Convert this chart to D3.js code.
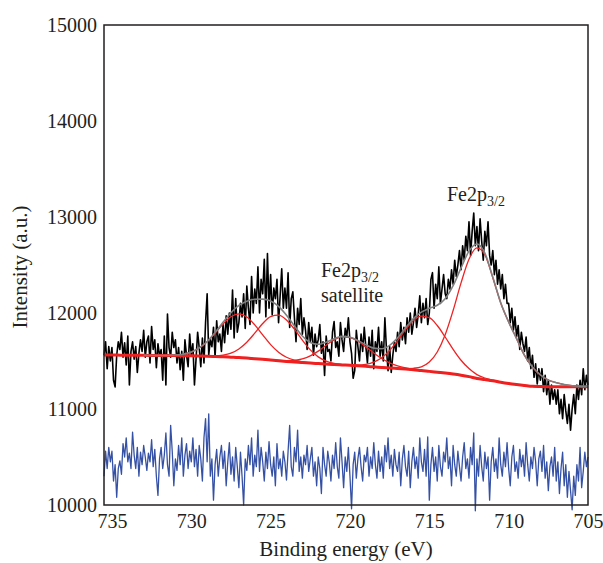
<!DOCTYPE html>
<html>
<head>
<meta charset="utf-8">
<script src="https://cdn.jsdelivr.net/npm/d3@7"></script>
<style>
  body { margin: 0; background: #fff; }
  text { font-family: "Liberation Serif", "Times New Roman", serif; }
</style>
</head>
<body>
<div id="chart"></div>
<script>
// axis ticks
var xTicks = [735, 730, 725, 720, 715, 710, 705];
var yTicks = [10000, 11000, 12000, 13000, 14000, 15000];

// fit grid (eV), 0.5 eV steps
var energyGrid = [735.5, 735, 734.5, 734, 733.5, 733, 732.5, 732, 731.5, 731,
  730.5, 730, 729.5, 729, 728.5, 728, 727.5, 727, 726.5, 726,
  725.5, 725, 724.5, 724, 723.5, 723, 722.5, 722, 721.5, 721,
  720.5, 720, 719.5, 719, 718.5, 718, 717.5, 717, 716.5, 716,
  715.5, 715, 714.5, 714, 713.5, 713, 712.5, 712, 711.5, 711,
  710.5, 710, 709.5, 709, 708.5, 708, 707.5, 707, 706.5, 706,
  705.5, 705];

// Shirley background (counts)
var background = [11562, 11562, 11561, 11560, 11559, 11559, 11558, 11557, 11556, 11556,
  11555, 11554, 11552, 11550, 11547, 11544, 11540, 11536, 11530, 11523,
  11517, 11510, 11503, 11496, 11490, 11484, 11478, 11473, 11468, 11463,
  11459, 11455, 11450, 11444, 11439, 11433, 11428, 11422, 11416, 11410,
  11400, 11392, 11383, 11374, 11364, 11352, 11337, 11318, 11306, 11294,
  11279, 11266, 11255, 11245, 11236, 11234, 11233, 11233, 11233, 11233,
  11233, 11233];

// fitted components, counts above background
var peak727 = [0, 0, 0, 0, 0, 0, 0, 1, 2, 6,
  16, 39, 83, 151, 243, 342, 421, 454, 428, 353,
  255, 161, 89, 43, 18, 7, 2, 1, 0, 0,
  0, 0, 0, 0, 0, 0, 0, 0, 0, 0,
  0, 0, 0, 0, 0, 0, 0, 0, 0, 0,
  0, 0, 0, 0, 0, 0, 0, 0, 0, 0,
  0, 0];
var peak724 = [0, 0, 0, 0, 0, 0, 0, 0, 0, 0,
  0, 0, 1, 2, 6, 17, 41, 89, 165, 267,
  373, 453, 475, 432, 341, 233, 138, 70, 31, 12,
  4, 1, 0, 0, 0, 0, 0, 0, 0, 0,
  0, 0, 0, 0, 0, 0, 0, 0, 0, 0,
  0, 0, 0, 0, 0, 0, 0, 0, 0, 0,
  0, 0];
var peakSat = [0, 0, 0, 0, 0, 0, 0, 0, 0, 0,
  0, 0, 0, 0, 0, 0, 0, 0, 0, 0,
  0, 1, 2, 6, 16, 37, 75, 130, 197, 257,
  292, 289, 256, 203, 145, 93, 53, 28, 13, 5,
  2, 1, 0, 0, 0, 0, 0, 0, 0, 0,
  0, 0, 0, 0, 0, 0, 0, 0, 0, 0,
  0, 0];
var peak715 = [0, 0, 0, 0, 0, 0, 0, 0, 0, 0,
  0, 0, 0, 0, 0, 0, 0, 0, 0, 0,
  0, 0, 0, 0, 0, 0, 0, 0, 0, 0,
  1, 3, 8, 22, 50, 101, 182, 290, 410, 513,
  568, 559, 487, 376, 258, 156, 84, 40, 17, 6,
  2, 1, 0, 0, 0, 0, 0, 0, 0, 0,
  0, 0];
var peak712 = [0, 0, 0, 0, 0, 0, 0, 0, 0, 0,
  0, 0, 0, 0, 0, 0, 0, 0, 0, 0,
  0, 0, 0, 0, 0, 0, 0, 0, 0, 0,
  0, 0, 0, 0, 0, 0, 0, 1, 4, 14,
  39, 97, 211, 399, 662, 962, 1223, 1360, 1301, 1074,
  826, 640, 478, 313, 201, 121, 68, 41, 21, 10,
  4, 1];
var components = [peak727, peak724, peakSat, peak715, peak712];

// envelope drawn from this energy down
var envelopeStart = 733;

// measured spectrum, 735.5 -> 705.0 eV in 0.1 eV steps
var rawStart = 735.5;
var rawStep = 0.1;
var rawCounts = [11560, 11700, 11420, 11650, 11500,
  11640, 11300, 11230, 11560, 11700, 11620, 11800, 11540, 11690, 11460,
  11760, 11250, 11600, 11700, 11520, 11650, 11380, 11580, 11720, 11600,
  11820, 11540, 11700, 11760, 11480, 11860, 11620, 11720, 11430, 11680,
  11550, 11620, 11300, 11760, 11250, 11990, 11640, 11540, 11800, 11640,
  11720, 11480, 11640, 11410, 11600, 11300, 11720, 11560, 11440, 11780,
  11560, 11680, 11250, 11520, 11800, 11640, 11440, 11740, 11480, 11900,
  12200, 11560, 11720, 11650, 11850, 11540, 11920, 11700, 11780, 11600,
  11880, 11690, 11970, 11780, 12000, 11830, 12240, 11740, 12150, 11800,
  11900, 12100, 11960, 12200, 11840, 12280, 12050, 11880, 12380, 12000,
  12250, 12100, 12480, 12000, 12350, 12200, 12560, 11960, 12620, 12050,
  12400, 11980, 12260, 12150, 12350, 11900, 12180, 12460, 12050, 12260,
  12050, 12420, 11850, 12150, 12220, 11950, 11700, 12050, 11880, 12150,
  11780, 11950, 11820, 11620, 11900, 11700, 11850, 11560, 11780, 11650,
  11720, 11880, 11580, 11700, 11350, 11760, 11600, 11620, 11500, 11800,
  11910, 11640, 11700, 11550, 11900, 11720, 11600, 11840, 11750, 11950,
  11700, 11580, 11320, 11400, 11820, 11650, 11500, 11780, 11600, 11850,
  11650, 11480, 11750, 11550, 11820, 11420, 11700, 11600, 11850, 11550,
  11700, 11500, 11950, 11620, 11400, 11650, 11380, 11560, 11700, 11600,
  11800, 11650, 11900, 11720, 11850, 11680, 11950, 11800, 12000, 11780,
  11900, 12050, 11850, 11980, 12180, 11900, 12100, 11950, 12150, 11880,
  12000, 12350, 12420, 12050, 12300, 12150, 12480, 12100, 12250, 12400,
  12200, 12150, 12350, 12250, 12450, 12300, 12550, 12380, 12500, 12650,
  12450, 12700, 12550, 12800, 12650, 12950, 12600, 12850, 13040, 12700,
  12900, 12650, 12980, 12750, 12550, 12850, 12700, 12950, 12600, 12500,
  12650, 12400, 12550, 12300, 12450, 12250, 12400, 12150, 12300, 12100,
  12100, 11900, 12050, 11820, 11960, 11750, 11870, 11620, 11800, 11680,
  11600, 11750, 11500, 11640, 11420, 11560, 11330, 11470, 11260, 11420,
  11300, 11420, 11180, 11350, 11150, 11300, 11050, 11250, 11100, 11200,
  11050, 11200, 10950, 11100, 10900, 11150, 10980, 10850, 11050, 10780,
  11000, 11150, 10950, 11250, 11100, 11300, 11150, 11420, 11200, 11350,
  11250];

// residual (offset), same energy steps
var residual = [10300, 10560, 10380, 10600, 10450,
  10560, 10250, 10420, 10080, 10380, 10460, 10320, 10640, 10500, 10700,
  10450, 10540, 10380, 10760, 10520, 10380, 10600, 10300, 10550, 10420,
  10620, 10500, 10360, 10540, 10450, 10680, 10400, 10580, 10300, 10100,
  10480, 10600, 10380, 10520, 10750, 10420, 10300, 10830, 10560, 10200,
  10480, 10360, 10620, 10420, 10700, 10300, 10520, 10640, 10380, 10560,
  10450, 10700, 10400, 10580, 10300, 10620, 10480, 10250, 10700, 10900,
  10450, 10950, 10300, 10480, 10050, 10420, 10580, 10300, 10500, 10620,
  10380, 10560, 10200, 10450, 10650, 10320, 10500, 10250, 10600, 10400,
  10180, 10550, 10300, 10000, 10480, 10360, 10620, 10420, 10700, 10300,
  10520, 10400, 10780, 10350, 10600, 10450, 10250, 10550, 10380, 10660,
  10420, 10300, 10500, 10200, 10640, 10380, 10480, 10300, 10560, 10450,
  10260, 10560, 10830, 10400, 10300, 10600, 10450, 10780, 10350, 10500,
  10280, 10520, 10420, 10620, 10350, 10480, 10600, 10300, 10450, 10200,
  10500, 10380, 10120, 10600, 10420, 10300, 10560, 10440, 10250, 10520,
  10380, 10650, 10400, 10280, 10700, 10450, 10180, 10500, 10350, 10600,
  10300, 9960, 10420, 10550, 10280, 10480, 10600, 10400, 10250, 10520,
  10450, 10600, 10300, 10500, 10380, 10650, 10420, 10280, 10560, 10350,
  10500, 10280, 10620, 10450, 10700, 10380, 10520, 10300, 10580, 10420,
  10350, 10550, 10200, 10480, 10620, 10400, 10300, 10560, 10180, 10450,
  10600, 10380, 10500, 10280, 10700, 10450, 10350, 10580, 10300, 10710,
  10050, 10420, 10600, 10350, 10500, 10250, 10620, 10400, 10300, 10550,
  10450, 10700, 10380, 10500, 10200, 10620, 10420, 10300, 10560, 10400,
  10250, 10500, 10650, 10380, 10480, 10280, 10600, 10420, 10750, 9940,
  10480, 10300, 10620, 10400, 10250, 10550, 10380, 10500, 10050, 10450,
  10600, 10350, 10480, 10280, 10700, 10420, 10300, 10550, 10400, 10650,
  10380, 10200, 10500, 10620, 10350, 10450, 10280, 10580, 10400, 10520,
  10300, 10650, 10420, 10250, 10500, 10380, 10600, 10450, 10200, 10480,
  10560, 10350, 10620, 10280, 10450, 10150, 10400, 10500, 10300, 10600,
  10250, 10450, 10120, 10380, 10550, 10200, 10420, 10080, 10350, 10150,
  9950, 10300, 10100, 10420, 10250, 10600, 10180, 10350, 10550, 10400,
  10500];

var width = 603;
var height = 563;

// plot box
var plotLeft = 104;
var plotRight = 588;
var plotTop = 25;
var plotBottom = 505;

var textColor = "#231f20";
var fontFamily = '"Liberation Serif", "Times New Roman", serif';

var svg = d3
  .select("#chart")
  .append("svg")
  .attr("width", width)
  .attr("height", height);

var xScale = d3.scaleLinear().domain([735.5, 705]).range([plotLeft, plotRight]);
var yScale = d3.scaleLinear().domain([10000, 15000]).range([plotBottom, plotTop]);

// raw spectrum + residual
var rawLine = d3
  .line()
  .x(function(d, i) { return xScale(rawStart - i * rawStep); })
  .y(function(d) { return yScale(d); });

svg.append("path")
  .attr("d", rawLine(residual))
  .attr("fill", "none")
  .attr("stroke", "#3551a5")
  .attr("stroke-width", 1.3)
  .attr("stroke-linejoin", "round");

svg.append("path")
  .attr("d", rawLine(rawCounts))
  .attr("fill", "none")
  .attr("stroke", "#000")
  .attr("stroke-width", 1.6)
  .attr("stroke-linejoin", "round");

// fit curves
var gridLine = d3
  .line()
  .x(function(d, i) { return xScale(energyGrid[i]); })
  .y(function(d) { return yScale(d); })
  .curve(d3.curveMonotoneX);

components.forEach(function(comp) {
  var vals = comp.map(function(v, i) { return background[i] + v; });
  svg.append("path")
    .attr("d", gridLine(vals))
    .attr("fill", "none")
    .attr("stroke", "#ee2222")
    .attr("stroke-width", 1.3);
});

svg.append("path")
  .attr("d", gridLine(background))
  .attr("fill", "none")
  .attr("stroke", "#ef2020")
  .attr("stroke-width", 3);

// envelope = background + all components
var envelope = background.map(function(b, i) {
  return b + d3.sum(components, function(c) { return c[i]; });
});
var envLine = d3
  .line()
  .defined(function(d, i) { return energyGrid[i] <= envelopeStart; })
  .x(function(d, i) { return xScale(energyGrid[i]); })
  .y(function(d) { return yScale(d); })
  .curve(d3.curveMonotoneX);

svg.append("path")
  .attr("d", envLine(envelope))
  .attr("fill", "none")
  .attr("stroke", "#808080")
  .attr("stroke-width", 1.6);

// frame
svg.append("rect")
  .attr("x", plotLeft)
  .attr("y", plotTop)
  .attr("width", plotRight - plotLeft)
  .attr("height", plotBottom - plotTop)
  .attr("fill", "none")
  .attr("stroke", textColor)
  .attr("stroke-width", 1.5);

// axes, labels only
var xAxis = d3.axisBottom(xScale).tickValues(xTicks).tickSize(0).tickPadding(9);
var yAxis = d3.axisLeft(yScale).tickValues(yTicks).tickSize(0).tickPadding(7)
  .tickFormat(d3.format("d"));

var gx = svg.append("g")
  .attr("transform", "translate(0," + plotBottom + ")")
  .call(xAxis);
var gy = svg.append("g")
  .attr("transform", "translate(" + plotLeft + ",0)")
  .call(yAxis);

[gx, gy].forEach(function(g) {
  g.select(".domain").remove();
  g.attr("font-family", fontFamily)
    .attr("font-size", 20)
    .attr("color", textColor);
});

// axis titles
svg.append("text")
  .attr("x", 346)
  .attr("y", 556)
  .attr("text-anchor", "middle")
  .attr("font-size", 21)
  .attr("fill", textColor)
  .text("Binding energy (eV)");

svg.append("text")
  .attr("transform", "translate(27,267)rotate(-90)")
  .attr("text-anchor", "middle")
  .attr("font-size", 21)
  .attr("fill", textColor)
  .text("Intensity (a.u.)");

// peak labels
function peakLabel(x, y) {
  var t = svg.append("text")
    .attr("x", x)
    .attr("y", y)
    .attr("font-size", 20)
    .attr("fill", textColor);
  t.append("tspan").text("Fe2p");
  t.append("tspan").attr("font-size", 14).attr("dy", 5).text("3/2");
}
peakLabel(447, 201);
peakLabel(321, 277);

svg.append("text")
  .attr("x", 321)
  .attr("y", 302)
  .attr("font-size", 20)
  .attr("fill", textColor)
  .text("satellite");
</script>
</body>
</html>
